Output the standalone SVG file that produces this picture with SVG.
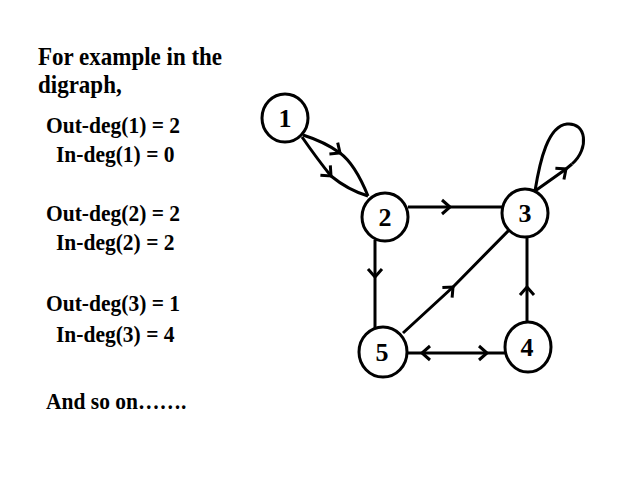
<svg xmlns="http://www.w3.org/2000/svg" width="638" height="479" viewBox="0 0 638 479">
<style>
.t{font-family:"Liberation Serif","Times New Roman",serif;font-weight:bold;font-size:21.5px;fill:#000}
.h{font-size:23px}
.n{fill:#fff;stroke:#000;stroke-width:3}
.nl{font-family:"Liberation Serif","Times New Roman",serif;font-weight:bold;font-size:26px;fill:#000;text-anchor:middle}
.e{fill:none;stroke:#000;stroke-width:3;marker-mid:url(#chev)}
.l{fill:none;stroke:#000;stroke-width:3}
</style>
<defs>
<marker id="chev" markerUnits="userSpaceOnUse" markerWidth="20" markerHeight="20" viewBox="-10 -10 20 20" refX="0" refY="0" orient="auto" overflow="visible">
<path d="M-8,-7 L0,0 L-8,7" fill="none" stroke="#000" stroke-width="3"/>
</marker>
</defs>
<rect width="638" height="479" fill="#fff"/>
<g id="text">
<text class="t h" transform="translate(38,65) scale(1,1.08)">For example in the</text>
<text class="t h" transform="translate(38,93) scale(1,1.08)">digraph,</text>
<text class="t" transform="translate(46,133) scale(1,1.1)">Out-deg(1) = 2</text>
<text class="t" transform="translate(56,162) scale(1,1.1)">In-deg(1) = 0</text>
<text class="t" transform="translate(46,221) scale(1,1.1)">Out-deg(2) = 2</text>
<text class="t" transform="translate(56,250) scale(1,1.1)">In-deg(2) = 2</text>
<text class="t" transform="translate(46,311) scale(1,1.1)">Out-deg(3) = 1</text>
<text class="t" transform="translate(56,342) scale(1,1.1)">In-deg(3) = 4</text>
<text class="t" transform="translate(46,409) scale(1,1.1)">And so on…….</text>
</g>
<g id="connectors">
<path class="e" d="M303,135 Q325,142 340,153 Q355,164 368,196"/>
<path class="e" d="M302,137 Q318,160 331,176 Q348,190 368,196"/>
<path class="e" d="M408,207 L450,207 L502,207"/>
<path class="e" d="M375,240 L375,277 L375,328"/>
<path class="e" d="M403,333 L453,287 L510,229"/>
<path class="e" d="M527,323 L527,287 L527,236"/>
<path class="e" d="M456,353 L422,353 L407,353"/>
<path class="e" d="M456,353 L487,353 L505,353"/>
<path class="e" d="M535,191 L566,169 L572,164"/>
<path class="l" d="M572,164 C590,148 586,122 567,124 C548,126 540,160 535,191"/>
</g>
<g id="node1"><ellipse class="n" cx="285" cy="118" rx="23" ry="24"/><text class="nl" x="285" y="127">1</text></g>
<g id="node2"><ellipse class="n" cx="385" cy="217" rx="23" ry="24"/><text class="nl" x="385" y="226">2</text></g>
<g id="node3"><ellipse class="n" cx="525" cy="213" rx="23" ry="24"/><text class="nl" x="525" y="222">3</text></g>
<g id="node4"><ellipse class="n" cx="528" cy="347" rx="23" ry="25"/><text class="nl" x="527" y="356">4</text></g>
<g id="node5"><ellipse class="n" cx="383" cy="352" rx="24" ry="25"/><text class="nl" x="382" y="361">5</text></g>
</svg>
